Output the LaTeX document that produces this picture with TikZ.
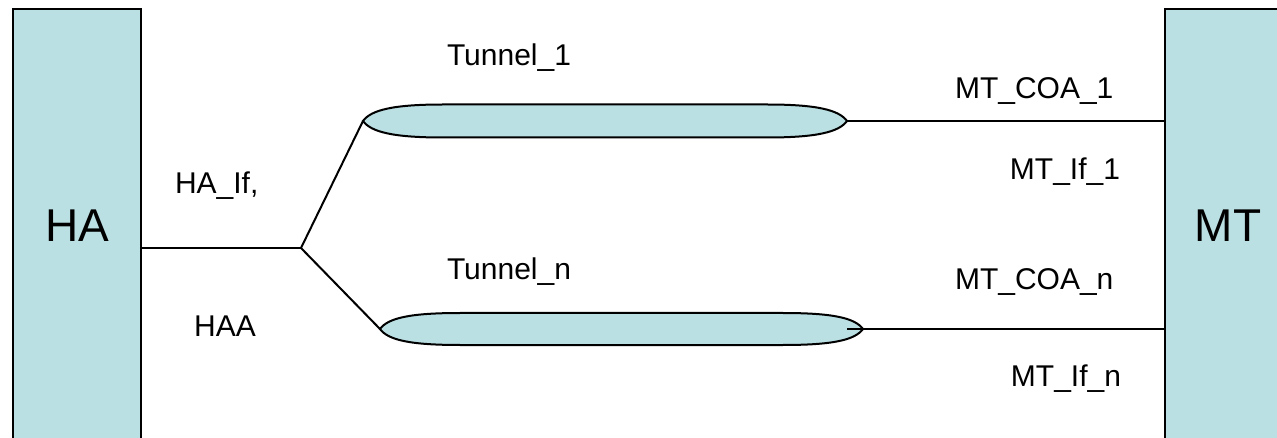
\documentclass[tikz,border=0pt]{standalone}
\usepackage{fontspec}
\setmainfont{Liberation Sans}
\definecolor{boxfill}{RGB}{187,224,227}
\begin{document}
\begin{tikzpicture}[x=1pt,y=-1pt,
  line width=2pt,
  endbox/.style={draw=black,fill=boxfill,rectangle,inner sep=0pt,
    font=\fontsize{46}{52}\selectfont},
  tunbox/.style={rectangle,inner sep=0pt,minimum height=#1},
  lbl/.style={inner sep=0pt,font=\fontsize{30}{36}\selectfont},
  wire/.style={draw=black,line width=2pt}
]
\clip (0,0) rectangle (1277,438);
\fill[white] (0,0) rectangle (1277,438);

% end boxes
\node[endbox,minimum width=128,minimum height=434] (ha) at (77,226) {HA};
\node[endbox,minimum width=126,minimum height=434] (mt) at (1228,226) {MT};

% tunnels
\node[tunbox=31,minimum width=482] (t1) at (605,121) {};
\node[tunbox=30,minimum width=481] (t2) at (621.5,329) {};

\foreach \t in {t1,t2}{
  \filldraw[fill=boxfill,draw=black,line width=2pt]
    (\t.west) .. controls +(8,-11) and +(-50,0) .. ([xshift=80pt]\t.north west)
    -- ([xshift=-80pt]\t.north east)
    .. controls +(50,0) and +(-8,-11) .. (\t.east)
    .. controls +(-8,11) and +(50,0) .. ([xshift=-80pt]\t.south east)
    -- ([xshift=80pt]\t.south west)
    .. controls +(-50,0) and +(8,11) .. (\t.west) -- cycle;
}

% junction
\coordinate (j) at (301,248);
\draw[wire] (j -| ha.east) -- (j);
\draw[wire] (j) -- (t1.west);
\draw[wire] (j) -- (t2.west);
\draw[wire] (t1.east) -- (t1.east -| mt.west);
\draw[wire] ([xshift=-16pt]t2.east) -- (t2.east -| mt.west);

% labels
\node[lbl,anchor=base] (l1) at (509,66) {Tunnel\_1};
\node[lbl,anchor=base] (l2) at (509,280) {Tunnel\_n};
\node[lbl,anchor=base west] (l3) at (174,194) {HA\_If,};
\node[lbl,anchor=base] (l4) at (225,337) {HAA};
\node[lbl,anchor=base west] (l5) at (954,99) {MT\_COA\_1};
\node[lbl,anchor=base east] (l6) at (1121,180) {MT\_If\_1};
\node[lbl,anchor=base west] (l7) at (954,290) {MT\_COA\_n};
\node[lbl,anchor=base east] (l8) at (1122,386) {MT\_If\_n};
\end{tikzpicture}
\end{document}
